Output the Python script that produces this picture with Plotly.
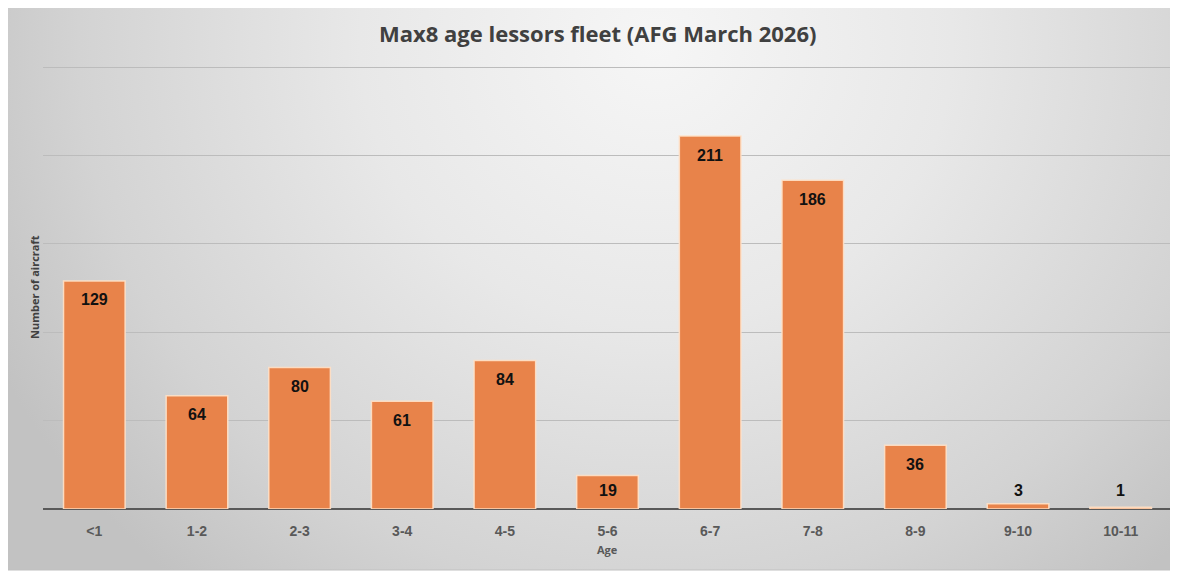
import plotly.graph_objects as go
import urllib.parse

categories = ["<1", "1-2", "2-3", "3-4", "4-5", "5-6", "6-7", "7-8", "8-9", "9-10", "10-11"]
aircraft = [129, 64, 80, 61, 84, 19, 211, 186, 36, 3, 1]
title_text = "Max8 age lessors fleet (AFG March 2026)"
x_title = "Age"
y_title = "Number of aircraft"

OFF = 8  # page body margin
W, H = 1178 - OFF, 574 - OFF
# plot area in screen pixels: x 43..1172, y 67..509
ml, mr, mt, mb = 43 - OFF, (1178 - OFF) - (1172 - OFF), 66 - OFF, (574 - OFF) - (509 - OFF)
pw, ph = W - ml - mr, H - mt - mb


def px(sx):
    return (sx - OFF - ml) / pw


def py(sy):
    return (H - mb - (sy - OFF)) / ph


svg = (
    "<svg xmlns='http://www.w3.org/2000/svg' width='1166' height='565' viewBox='0 0 1166 565' preserveAspectRatio='none'>"
    "<defs><radialGradient id='g' gradientUnits='userSpaceOnUse' cx='650' cy='40' r='740' "
    "gradientTransform='translate(650 40) scale(1 0.95) translate(-650 -40)'>"
    "<stop offset='0' stop-color='#f6f6f6'/><stop offset='0.4' stop-color='#e8e8e8'/>"
    "<stop offset='0.78' stop-color='#d3d3d3'/><stop offset='1' stop-color='#c2c2c2'/></radialGradient></defs>"
    "<rect width='1166' height='565' fill='url(#g)'/></svg>"
)
src = "data:image/svg+xml;charset=utf-8," + urllib.parse.quote(svg)

x0, x1 = px(6), px(1172)
y_top, y_bot = py(5), py(570)

fig = go.Figure()
fig.add_trace(go.Bar(
    x=categories, y=aircraft,
    marker=dict(color="#E8834A", line=dict(color="rgba(255,225,200,0.9)", width=1.5)),
    width=0.6, hoverinfo="x+y",
))

lab_font = dict(size=16, color="#111111", family="Liberation Sans")
annotations = []
for c, v in zip(categories, aircraft):
    if v <= 20:
        annotations.append(dict(x=c, y=0, yshift=19, text="<b>%d</b>" % v, showarrow=False,
                                font=lab_font, yanchor="middle"))
    else:
        annotations.append(dict(x=c, y=v, yshift=-19, text="<b>%d</b>" % v, showarrow=False,
                                font=lab_font, yanchor="middle"))
annotations.append(dict(text="<b>" + title_text + "</b>", xref="paper", yref="paper",
                        x=px(597), y=py(33), showarrow=False,
                        font=dict(size=22, color="#404040", family="Open Sans"),
                        xanchor="center", yanchor="middle"))
annotations.append(dict(text="<b>" + x_title + "</b>", xref="paper", yref="paper",
                        x=px(607), y=py(549), showarrow=False,
                        font=dict(size=11, color="#595959", family="Open Sans"),
                        xanchor="center", yanchor="middle"))
annotations.append(dict(text="<b>" + y_title + "</b>", xref="paper", yref="paper",
                        x=px(34), y=py(287), showarrow=False, textangle=-90,
                        font=dict(size=11, color="#404040", family="Open Sans"),
                        xanchor="center", yanchor="middle"))

fig.update_layout(
    width=W, height=H,
    margin=dict(l=ml, r=mr, t=mt, b=mb, autoexpand=False),
    paper_bgcolor="white", plot_bgcolor="rgba(0,0,0,0)",
    showlegend=False,
    annotations=annotations,
    images=[dict(source=src, xref="paper", yref="paper", x=x0, y=y_top,
                 sizex=x1 - x0, sizey=y_top - y_bot, sizing="stretch",
                 xanchor="left", yanchor="top", layer="below")],
    xaxis=dict(type="category", showgrid=False, showline=False, ticks="", automargin=False,
               ticklabelstandoff=12,
               tickfont=dict(size=14, color="#595959", family="Liberation Sans", weight="bold")),
    yaxis=dict(range=[0, 250.6], tick0=0, dtick=50, showticklabels=False, showgrid=True, automargin=False,
               gridcolor="#bcbcbc", gridwidth=1, zeroline=True,
               zerolinecolor="#595959", zerolinewidth=2),
    shapes=[dict(type="rect", xref="paper", yref="paper", x0=x0, x1=x1, y0=y_bot, y1=y_top,
                 line=dict(color="#c0c0c0", width=1), layer="below")],
)

fig.write_html("out.html")
